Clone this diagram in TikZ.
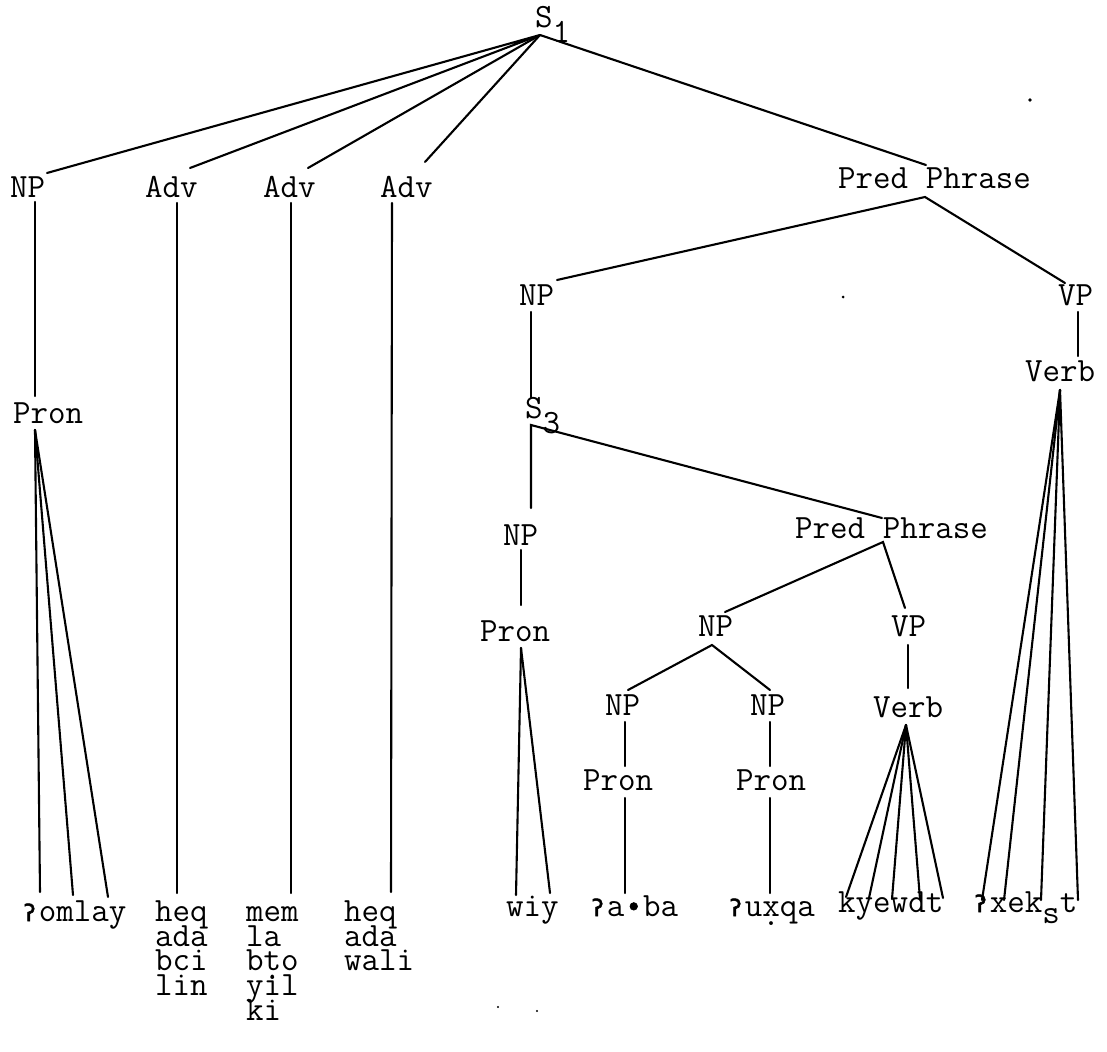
\documentclass[tikz,border=0pt]{standalone}
\usepackage{fontspec}
\newfontfamily\twsym[FakeBold=2.5]{DejaVu Sans Mono}
\newcommand{\tw}{\ttfamily\fontsize{34}{34}\selectfont\addfontfeatures{FakeStretch=1.05,FakeBold=3}}
\newcommand{\gst}{\makebox[18.7pt]{\twsym\fontsize{23}{23}\selectfont ʔ}}
\newcommand{\bul}{\makebox[18.7pt]{\twsym\fontsize{26}{26}\selectfont •}}
\newcommand{\dbl}[1]{\ooalign{#1\cr\hidewidth\raisebox{-9pt}{.}\hidewidth\cr}}
\newcommand{\lowr}[1]{\raisebox{-15pt}{#1}}
\begin{document}
\begin{tikzpicture}[x=1pt,y=-1pt,
  lab/.style={font=\tw, inner sep=0pt, anchor=base west, text height=14pt, text depth=2pt},
  br/.style={line width=2.1pt, line cap=round},
  speck/.style={fill=black}]
\useasboundingbox (0,0) rectangle (1107,1051);
\fill[white] (0,0) rectangle (1107,1051);
% labels
\node[lab] (s1) at (535,28) {S\lowr{1}};
\node[lab] (np1) at (10,197) {NP};
\node[lab] (adv1) at (145,197) {Adv};
\node[lab] (adv2) at (263,197) {Adv};
\node[lab] (adv3) at (380,197) {Adv};
\node[lab] (pp1) at (838,189) {Pred Phrase};
\node[lab] (pron1) at (13,423) {Pron};
\node[lab] (np2) at (519,305) {NP};
\node[lab] (vp1) at (1058,305) {VP};
\node[lab] (verb1) at (1025,381) {Verb};
\node[lab] (s3) at (525,418) {S\lowr{3}};
\node[lab] (np3) at (503,545) {NP};
\node[lab] (pp2) at (795,538) {Pred Phrase};
\node[lab] (pron2) at (480,641) {Pron};
\node[lab] (np4) at (698,636) {NP};
\node[lab] (vp2) at (891,636) {VP};
\node[lab] (np5) at (605,715) {NP};
\node[lab] (np6) at (750,715) {NP};
\node[lab] (verb2) at (873,717) {Verb};
\node[lab] (pron3) at (583,790) {Pron};
\node[lab] (pron4) at (736,790) {Pron};
% words
\node[lab] (w1) at (20,921) {\gst omlay};
\node[lab] (w2a) at (155,921) {heq};
\node[lab] (w2b) at (155,946) {ada};
\node[lab] (w2c) at (155,970) {bci};
\node[lab] (w2d) at (155,995) {lin};
\node[lab] (w3a) at (246,921) {mem};
\node[lab] (w3b) at (246,946) {la};
\node[lab] (w3c) at (246,970) {b\dbl{t}o};
\node[lab] (w3d) at (246,995) {yil};
\node[lab] (w3e) at (246,1020) {ki};
\node[lab] (w4a) at (344,921) {heq};
\node[lab] (w4b) at (344,946) {ada};
\node[lab] (w4c) at (344,970) {wali};
\node[lab] (w5) at (506,916) {wiy};
\node[lab] (w6) at (588,916) {\gst a\bul ba};
\node[lab] (w7) at (726,916) {\gst u\dbl{x}qa};
\node[lab] (w8) at (838,912) {kyewdt};
\node[lab] (w9) at (971,912) {\gst xek\raisebox{-11pt}{s}t};
% junction points
\coordinate (a1) at (540,35);
\coordinate (np1t) at (47,173);
\coordinate (adv1t) at (190,168);
\coordinate (adv2t) at (308,168);
\coordinate (adv3t) at (425,162);
\coordinate (pp1t) at (926,165);
\coordinate (np1b) at (35,202);
\coordinate (pron1t) at (35,396);
\coordinate (adv1b) at (177,203);
\coordinate (w2t) at (177,893);
\coordinate (adv2b) at (291,203);
\coordinate (w3t) at (291,893);
\coordinate (adv3b) at (392,203);
\coordinate (w4t) at (391,892);
\coordinate (pron1b) at (35,430);
\coordinate (w1a) at (40,892);
\coordinate (w1b) at (73,895);
\coordinate (w1c) at (108,897);
\coordinate (pp1b) at (925,197);
\coordinate (np2t) at (557,280);
\coordinate (vp1t) at (1065,283);
\coordinate (np2b) at (531,312);
\coordinate (s3t) at (531,398);
\coordinate (vp1b) at (1078,312);
\coordinate (verb1t) at (1078,356);
\coordinate (verb1b) at (1060,390);
\coordinate (w9a) at (982,900);
\coordinate (w9b) at (1004,900);
\coordinate (w9c) at (1041,900);
\coordinate (w9d) at (1078,900);
\coordinate (s3b) at (531,425);
\coordinate (np3t) at (531,508);
\coordinate (pp2t) at (882,518);
\coordinate (pp2b) at (883,542);
\coordinate (np4t) at (725,612);
\coordinate (vp2t) at (905,608);
\coordinate (np3b) at (521,550);
\coordinate (pron2t) at (521,605);
\coordinate (pron2b) at (521,648);
\coordinate (w5a) at (516,895);
\coordinate (w5b) at (550,893);
\coordinate (np4b) at (712,645);
\coordinate (np5t) at (628,690);
\coordinate (np6t) at (770,690);
\coordinate (vp2b) at (908,645);
\coordinate (verb2t) at (908,688);
\coordinate (verb2b) at (906,725);
\coordinate (w8a) at (846,897);
\coordinate (w8b) at (869,898);
\coordinate (w8c) at (892,899);
\coordinate (w8d) at (920,899);
\coordinate (w8e) at (943,898);
\coordinate (np5b) at (625,722);
\coordinate (pron3t) at (625,766);
\coordinate (pron3b) at (625,798);
\coordinate (w6t) at (625,893);
\coordinate (np6b) at (770,722);
\coordinate (pron4t) at (770,766);
\coordinate (pron4b) at (770,798);
\coordinate (w7t) at (770,893);
% branches
\draw[br] (np1t) -- (a1) -- (adv1t);
\draw[br] (a1) -- (adv2t);
\draw[br] (a1) -- (adv3t);
\draw[br] (a1) -- (pp1t);
\draw[br] (np1b) -- (pron1t);
\draw[br] (adv1b) -- (w2t);
\draw[br] (adv2b) -- (w3t);
\draw[br] (adv3b) -- (w4t);
\draw[br] (pron1b) -- (w1a);
\draw[br] (pron1b) -- (w1b);
\draw[br] (pron1b) -- (w1c);
\draw[br] (np2t) -- (pp1b) -- (vp1t);
\draw[br] (np2b) -- (s3t);
\draw[br] (vp1b) -- (verb1t);
\draw[br] (verb1b) -- (w9a);
\draw[br] (verb1b) -- (w9b);
\draw[br] (verb1b) -- (w9c);
\draw[br] (verb1b) -- (w9d);
\draw[br] (np3t) -- (s3b) -- (pp2t);
\draw[br] (np4t) -- (pp2b) -- (vp2t);
\draw[br] (np3b) -- (pron2t);
\draw[br] (pron2b) -- (w5a);
\draw[br] (pron2b) -- (w5b);
\draw[br] (np5t) -- (np4b) -- (np6t);
\draw[br] (vp2b) -- (verb2t);
\draw[br] (verb2b) -- (w8a);
\draw[br] (verb2b) -- (w8b);
\draw[br] (verb2b) -- (w8c);
\draw[br] (verb2b) -- (w8d);
\draw[br] (verb2b) -- (w8e);
\draw[br] (np5b) -- (pron3t);
\draw[br] (pron3b) -- (w6t);
\draw[br] (np6b) -- (pron4t);
\draw[br] (pron4b) -- (w7t);
% specks
\fill[speck] (1030,100) circle (1.8pt);
\fill[speck] (843,297) circle (1.5pt);
\fill[speck] (498,1007) circle (1.2pt);
\fill[speck] (537,1011) circle (1.2pt);
\end{tikzpicture}
\end{document}
